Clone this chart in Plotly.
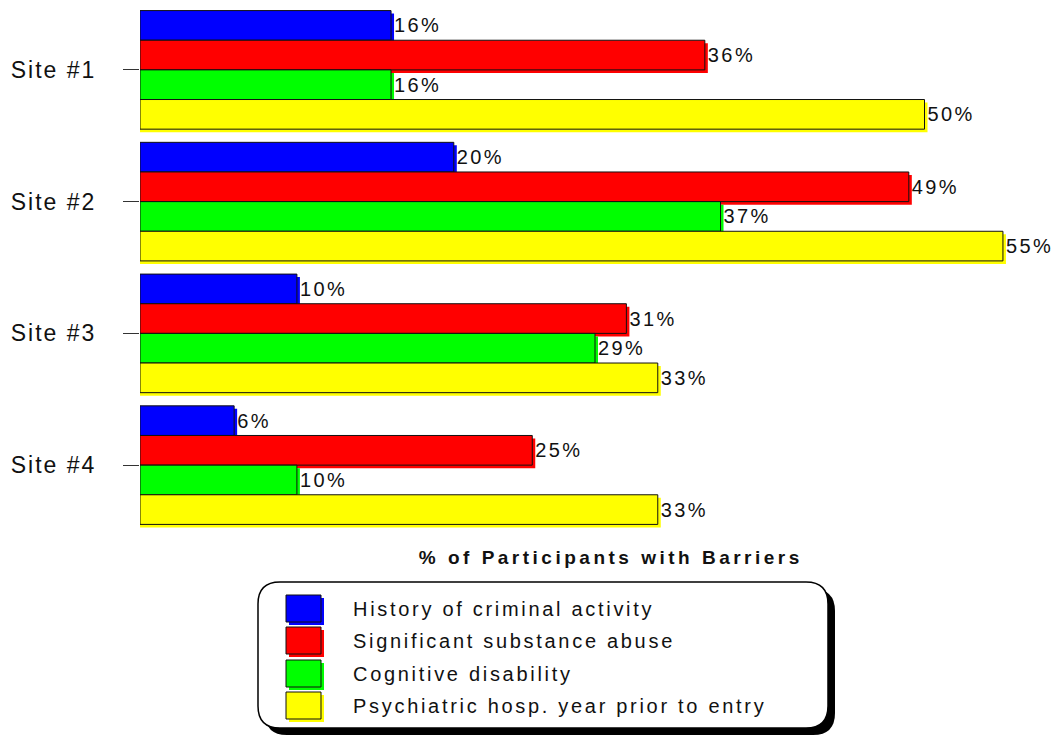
import plotly.graph_objects as go

sites = ["Site #1", "Site #2", "Site #3", "Site #4"]
series_names = [
    "History of criminal activity",
    "Significant substance abuse",
    "Cognitive disability",
    "Psychiatric hosp. year prior to entry",
]
criminal = [16, 20, 10, 6]
substance = [36, 49, 31, 25]
cognitive = [16, 37, 29, 10]
psychiatric = [50, 55, 33, 33]
series_values = [criminal, substance, cognitive, psychiatric]
colors = ["#0000FF", "#FF0000", "#00FF00", "#FFFF00"]
x_title = "% of Participants with Barriers"

# layout geometry (pixels)
W, H = 1052, 736
L, R, T, B = 140, 1040, 4, 531
PX_PER_UNIT = 15.69
XMAX = (R - L) / PX_PER_UNIT
CAT_PX = (B - T) / 4.0
BAR_W = 0.225
SH_DX = 3 / PX_PER_UNIT
SH_DY = 3 / CAT_PX

FONT = "Liberation Sans, Arial, sans-serif"

fig = go.Figure()
for i, (name, vals, col) in enumerate(zip(series_names, series_values, colors)):
    off = -2 * BAR_W + i * BAR_W
    # colored drop shadow
    fig.add_trace(go.Bar(
        y=sites, x=[v + SH_DX for v in vals], orientation="h",
        width=BAR_W, offset=off + SH_DY,
        marker=dict(color=col, line=dict(width=0)),
        hoverinfo="skip", showlegend=False,
    ))
    fig.add_trace(go.Bar(
        y=sites, x=vals, orientation="h", name=name,
        width=BAR_W, offset=off,
        marker=dict(color=col, line=dict(color="#111111", width=1)),
        text=[f"{v}%" for v in vals], textposition="outside",
        textfont=dict(family=FONT, size=20, color="#111111"),
        constraintext="none", cliponaxis=False,
        showlegend=False,
    ))

def xp(px):
    return (px - L) / (R - L)

def yp(py):
    return (B - py) / (B - T)

def rounded_path(x0, y0, x1, y1, r):
    pts = [
        ("M", [(x0 + r, y0)]),
        ("L", [(x1 - r, y0)]),
        ("Q", [(x1, y0), (x1, y0 + r)]),
        ("L", [(x1, y1 - r)]),
        ("Q", [(x1, y1), (x1 - r, y1)]),
        ("L", [(x0 + r, y1)]),
        ("Q", [(x0, y1), (x0, y1 - r)]),
        ("L", [(x0, y0 + r)]),
        ("Q", [(x0, y0), (x0 + r, y0)]),
    ]
    s = ""
    for cmd, ps in pts:
        s += cmd + " " + " ".join(f"{xp(a):.5f},{yp(b):.5f}" for a, b in ps) + " "
    return s + "Z"

shapes = []
# legend box shadow and box
shapes.append(dict(type="path", xref="paper", yref="paper",
                   path=rounded_path(265, 589, 835, 735, 22),
                   fillcolor="black", line=dict(width=0)))
shapes.append(dict(type="path", xref="paper", yref="paper",
                   path=rounded_path(258, 582, 828, 728, 22),
                   fillcolor="white", line=dict(color="black", width=1.5)))

annotations = []
leg_top = [595, 627, 660, 692]
for name, col, ty in zip(series_names, colors, leg_top):
    shapes.append(dict(type="rect", xref="paper", yref="paper",
                       x0=xp(289), x1=xp(324), y0=yp(ty + 3), y1=yp(ty + 30),
                       fillcolor=col, line=dict(width=0)))
    shapes.append(dict(type="rect", xref="paper", yref="paper",
                       x0=xp(286), x1=xp(321), y0=yp(ty), y1=yp(ty + 27),
                       fillcolor=col, line=dict(color="#111111", width=1)))
    annotations.append(dict(xref="paper", yref="paper", x=xp(351), y=yp(ty + 13.5),
                            text=name, showarrow=False, xanchor="left", yanchor="middle",
                            align="left",
                            font=dict(family=FONT, size=20, color="#111111")))

annotations.append(dict(xref="paper", yref="paper", x=xp(611), y=yp(557),
                        text="<b>" + x_title + "</b>", showarrow=False,
                        xanchor="center", yanchor="middle",
                        font=dict(family=FONT, size=19, color="#111111")))

fig.update_layout(
    width=W, height=H,
    margin=dict(l=L, r=W - R, t=T, b=H - B, pad=0),
    paper_bgcolor="white", plot_bgcolor="white",
    barmode="overlay", showlegend=False,
    xaxis=dict(visible=False, range=[0, XMAX], fixedrange=True),
    yaxis=dict(type="category", categoryorder="array", categoryarray=sites,
               range=[3.5, -0.5], showgrid=False, showline=False, zeroline=False,
               ticks="outside", ticklen=16, tickcolor="#333333", tickwidth=1,
               ticklabelstandoff=22,
               tickfont=dict(family=FONT, size=23, color="#111111")),
    shapes=shapes, annotations=annotations,
)

# wide letter spacing, as in the reference rendering (left edges kept in place)
post_script = """
var gd = document.getElementById('{plot_id}');
function spaceKeepLeft(t, sp){
  if (t.dataset.sp) return;
  var b0 = t.getBBox();
  t.style.letterSpacing = sp;
  var b1 = t.getBBox();
  var x = parseFloat(t.getAttribute('x') || 0);
  t.setAttribute('x', x + (b0.x - b1.x));
  t.dataset.sp = '1';
}
function spaceText(){
  gd.querySelectorAll('.ytick text').forEach(function(t){ t.style.letterSpacing = '2px'; });
  gd.querySelectorAll('text.bartext').forEach(function(t){ spaceKeepLeft(t, '2.4px'); });
  gd.querySelectorAll('g.annotation').forEach(function(g){
    var t = g.querySelector('text.annotation-text');
    if (!t) return;
    var idx = g.getAttribute('data-index');
    if (idx === '4') { t.style.letterSpacing = '3.5px'; }
    else { spaceKeepLeft(t, '2.7px'); }
  });
}
spaceText();
gd.on('plotly_afterplot', spaceText);
"""

fig.write_html("out.html", post_script=post_script)
